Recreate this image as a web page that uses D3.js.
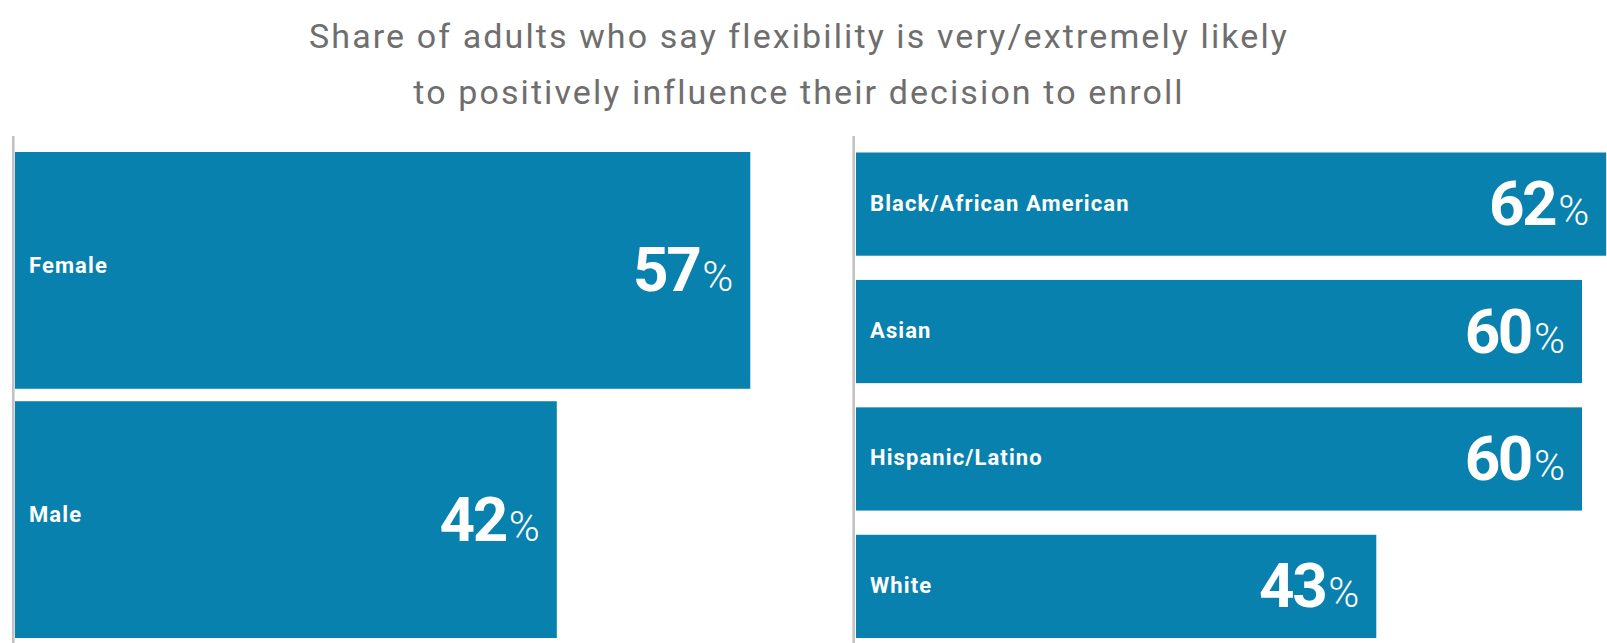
<!DOCTYPE html>
<html>
<head>
<meta charset="utf-8">
<script src="https://cdn.jsdelivr.net/npm/d3@7/dist/d3.min.js"></script>
<style>
  html, body { margin: 0; padding: 0; background: #fff; }
  svg { display: block; }
</style>
</head>
<body>
<svg id="chart" width="1607" height="643"></svg>
<script>
// Survey results: share answering "very/extremely likely"
const titleLines = [
  "Share of adults who say flexibility is very/extremely likely",
  "to positively influence their decision to enroll"
];
const genderCategories = ["Female", "Male"];
const genderValues = [57, 42];
const raceCategories = ["Black/African American", "Asian", "Hispanic/Latino", "White"];
const raceValues = [62, 60, 60, 43];

const W = 1607, H = 643;
const barColor = "#0881ae";
const axisColor = "#c2c2c2";
const fontFamily = "Roboto, 'Open Sans', 'Noto Sans', sans-serif";

const svg = d3.select("#chart");

// Title
svg.append("g")
  .selectAll("text")
  .data(titleLines)
  .join("text")
  .attr("x", 799)
  .attr("y", (d, i) => 48 + i * 56)
  .attr("text-anchor", "middle")
  .attr("font-family", fontFamily)
  .attr("font-size", 34)
  .attr("letter-spacing", 2.1)
  .attr("fill", "#6e6e6e")
  .text(d => d);

function drawPanel(opts) {
  const { cats, vals, x0, pxPerUnit, y0, y1, padInner, axisX, labelDy } = opts;
  const data = cats.map((c, i) => ({ cat: c, val: vals[i] }));

  const x = d3.scaleLinear().domain([0, 100]).range([x0, x0 + pxPerUnit * 100]);
  const y = d3.scaleBand().domain(cats).range([y0, y1]).paddingInner(padInner).paddingOuter(0);

  const g = svg.append("g");

  // baseline axis
  g.append("line")
    .attr("x1", axisX).attr("x2", axisX)
    .attr("y1", 136).attr("y2", H)
    .attr("stroke", axisColor)
    .attr("stroke-width", 2.6);

  g.selectAll("rect")
    .data(data)
    .join("rect")
    .attr("x", x(0))
    .attr("y", d => y(d.cat))
    .attr("width", d => x(d.val) - x(0))
    .attr("height", y.bandwidth())
    .attr("fill", barColor);

  // category names
  g.selectAll("text.cat")
    .data(data)
    .join("text")
    .attr("class", "cat")
    .attr("x", x(0) + 14)
    .attr("y", d => y(d.cat) + y.bandwidth() / 2 + labelDy)
    .attr("font-family", fontFamily)
    .attr("font-weight", 700)
    .attr("font-size", 22)
    .attr("letter-spacing", 1.1)
    .attr("fill", "#fff")
    .text(d => d.cat);

  // value labels
  const vt = g.selectAll("text.val")
    .data(data)
    .join("text")
    .attr("class", "val")
    .attr("x", d => x(d.val) - 17)
    .attr("y", d => y(d.cat) + y.bandwidth() / 2 + 21)
    .attr("text-anchor", "end")
    .attr("font-family", fontFamily)
    .attr("fill", "#fff");
  vt.append("tspan")
    .attr("font-weight", 700)
    .attr("font-size", 62)
    .attr("letter-spacing", -2.5)
    .text(d => d.val);
  vt.append("tspan")
    .attr("dx", 3)
    .attr("font-weight", 300)
    .attr("font-size", 42)
    .text("%");
}

drawPanel({
  cats: genderCategories, vals: genderValues,
  x0: 15, pxPerUnit: 12.9, y0: 152, y1: 638, padInner: 0.05, axisX: 13.3, labelDy: 2.5
});
drawPanel({
  cats: raceCategories, vals: raceValues,
  x0: 856, pxPerUnit: 12.1, y0: 152.5, y1: 638, padInner: 0.19, axisX: 853.7, labelDy: 6.5
});
</script>
</body>
</html>
